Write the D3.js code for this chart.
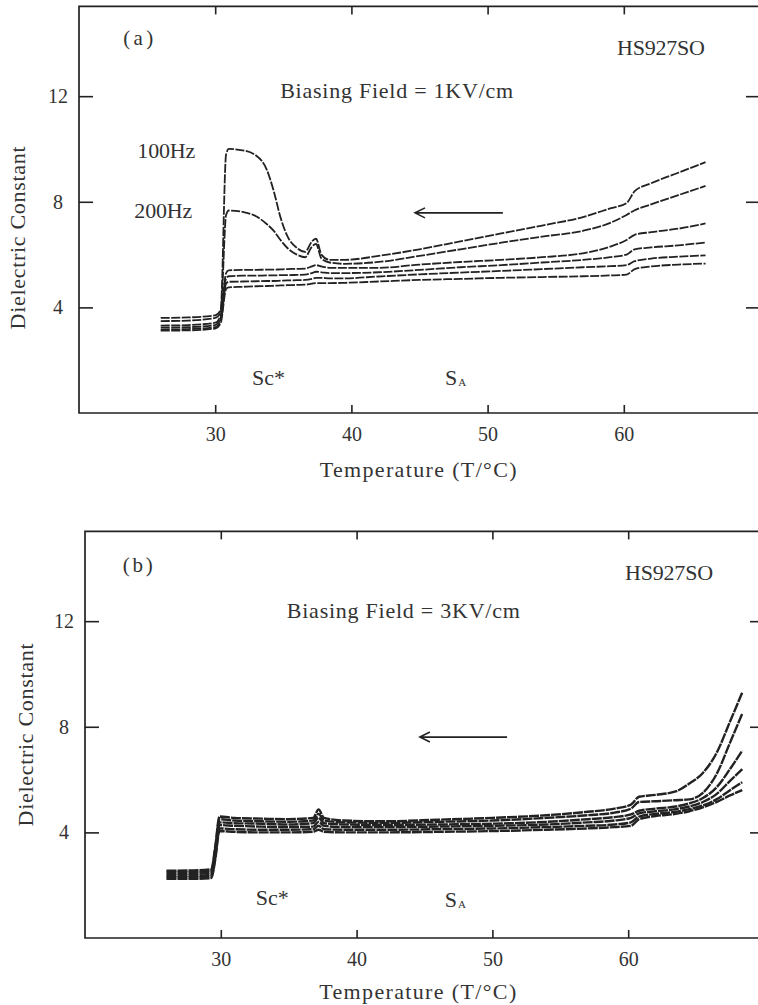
<!DOCTYPE html>
<html>
<head>
<meta charset="utf-8">
<script src="https://cdn.jsdelivr.net/npm/d3@7"></script>
<style>
  body { margin: 0; background: #fff; }
  svg { display: block; }
</style>
</head>
<body>
<script>
// ---- data ----
const xTicks = [30, 40, 50, 60];
const yTicks = [4, 8, 12];

// panel (a): biasing field 1 KV/cm
const tempA = [26, 28, 30, 30.4, 30.8, 31, 32, 33, 33.8, 34.3, 34.8, 35.3, 36, 36.6, 37.1, 37.4, 37.8, 38.4, 39.5, 42, 45, 48, 51, 54, 57, 59, 60.2, 60.8, 62, 64, 66];
const epsA100Hz = [3.6, 3.62, 3.7, 3.9, 9.8, 10.0, 9.95, 9.75, 9.2, 8.4, 7.4, 6.7, 6.25, 6.1, 6.5, 6.6, 6.0, 5.8, 5.8, 5.95, 6.2, 6.5, 6.8, 7.1, 7.42, 7.75, 7.95, 8.4, 8.7, 9.1, 9.5];
const epsA200Hz = [3.48, 3.5, 3.6, 3.8, 7.5, 7.67, 7.62, 7.45, 7.15, 6.9, 6.55, 6.25, 6.0, 5.9, 6.3, 6.4, 5.85, 5.7, 5.65, 5.72, 5.95, 6.2, 6.45, 6.68, 6.9, 7.2, 7.5, 7.68, 7.9, 8.25, 8.6];
const epsA3 = [3.31, 3.33, 3.42, 3.7, 5.3, 5.4, 5.42, 5.42, 5.43, 5.43, 5.44, 5.45, 5.46, 5.47, 5.55, 5.6, 5.55, 5.5, 5.5, 5.5, 5.62, 5.72, 5.8, 5.9, 6.05, 6.3, 6.55, 6.75, 6.85, 6.98, 7.18];
const epsA4 = [3.23, 3.25, 3.33, 3.6, 5.1, 5.18, 5.2, 5.2, 5.21, 5.21, 5.22, 5.22, 5.23, 5.24, 5.3, 5.35, 5.33, 5.3, 5.3, 5.33, 5.42, 5.52, 5.6, 5.7, 5.8, 5.9, 6.0, 6.2, 6.27, 6.35, 6.46];
const epsA5 = [3.16, 3.18, 3.25, 3.5, 4.9, 4.97, 4.98, 4.99, 5.0, 5.0, 5.01, 5.02, 5.03, 5.04, 5.08, 5.12, 5.12, 5.1, 5.1, 5.17, 5.25, 5.32, 5.38, 5.45, 5.52, 5.56, 5.6, 5.75, 5.85, 5.92, 5.97];
const epsA6 = [3.12, 3.13, 3.2, 3.4, 4.7, 4.76, 4.78, 4.8, 4.81, 4.82, 4.83, 4.84, 4.85, 4.86, 4.9, 4.92, 4.92, 4.92, 4.93, 4.98, 5.04, 5.08, 5.12, 5.15, 5.18, 5.21, 5.24, 5.45, 5.55, 5.62, 5.66];

// panel (b): biasing field 3 KV/cm
const tempB = [26, 28, 29.3, 29.6, 29.9, 31, 33, 35, 36.8, 37.2, 37.6, 39, 42, 46, 50, 54, 57, 59, 60.2, 60.8, 62, 63.5, 64.5, 65.5, 66.5, 67.5, 68.4];
const epsB1 = [2.55, 2.56, 2.6, 3.5, 4.6, 4.55, 4.52, 4.5, 4.55, 4.87, 4.55, 4.45, 4.42, 4.48, 4.55, 4.65, 4.78, 4.9, 5.05, 5.35, 5.42, 5.55, 5.85, 6.25, 7.0, 8.2, 9.3];
const epsB2 = [2.5, 2.5, 2.55, 3.4, 4.5, 4.45, 4.42, 4.4, 4.45, 4.7, 4.45, 4.38, 4.36, 4.4, 4.45, 4.55, 4.65, 4.75, 4.9, 5.15, 5.18, 5.22, 5.25, 5.5, 6.2, 7.4, 8.5];
const epsB3 = [2.43, 2.43, 2.48, 3.3, 4.38, 4.35, 4.33, 4.3, 4.35, 4.55, 4.35, 4.3, 4.28, 4.3, 4.33, 4.4, 4.5, 4.58, 4.68, 4.82, 4.9, 4.98, 5.1, 5.3, 5.7, 6.4, 7.1];
const epsB4 = [2.36, 2.36, 2.4, 3.2, 4.28, 4.25, 4.22, 4.2, 4.22, 4.4, 4.25, 4.2, 4.2, 4.22, 4.25, 4.3, 4.38, 4.45, 4.55, 4.72, 4.8, 4.88, 4.98, 5.15, 5.45, 5.95, 6.4];
const epsB5 = [2.3, 2.3, 2.33, 3.1, 4.15, 4.12, 4.1, 4.1, 4.12, 4.25, 4.12, 4.1, 4.1, 4.12, 4.15, 4.2, 4.25, 4.3, 4.38, 4.6, 4.7, 4.78, 4.88, 5.02, 5.25, 5.6, 5.9];
const epsB6 = [2.24, 2.24, 2.27, 3.0, 4.05, 4.02, 4.0, 4.0, 4.02, 4.1, 4.02, 4.0, 4.0, 4.02, 4.05, 4.1, 4.15, 4.2, 4.25, 4.5, 4.62, 4.7, 4.8, 4.95, 5.15, 5.4, 5.6];

const ink = "#222";
const font = "'Liberation Serif', 'DejaVu Serif', serif";

const svg = d3.select("body").append("svg")
    .attr("width", 758)
    .attr("height", 1005)
    .style("font-family", font);

function drawPanel(p) {
    const x = d3.scaleLinear().domain([20, 70]).range([p.left, p.right]);
    const y = d3.scaleLinear().domain([0, 15.4]).range([p.bottom, p.top]);

    const g = svg.append("g");

    // frame
    g.append("path")
        .attr("d", `M${p.right},${p.top}H${p.left}V${p.bottom}H${p.right}`)
        .attr("fill", "none")
        .attr("stroke", ink)
        .attr("stroke-width", 1.7);

    // axes with inward ticks
    g.append("g")
        .attr("transform", `translate(0,${p.bottom})`)
        .call(d3.axisBottom(x).tickValues(xTicks).tickSizeInner(-8).tickSizeOuter(0).tickPadding(14))
        .call(a => a.select(".domain").remove());
    g.append("g")
        .attr("transform", `translate(0,${p.top})`)
        .call(d3.axisTop(x).tickValues(xTicks).tickSizeInner(-8).tickSizeOuter(0).tickFormat(""))
        .call(a => a.select(".domain").remove());
    g.append("g")
        .attr("transform", `translate(${p.left},0)`)
        .call(d3.axisLeft(y).tickValues(yTicks).tickSizeInner(-14).tickSizeOuter(0))
        .call(a => a.select(".domain").remove())
        .call(a => a.selectAll("text").attr("text-anchor", "middle").attr("x", -p.labelGap));
    g.append("g")
        .attr("transform", `translate(${p.right},0)`)
        .call(d3.axisRight(y).tickValues(yTicks).tickSizeInner(-14).tickSizeOuter(0).tickFormat(""))
        .call(a => a.select(".domain").remove());

    g.selectAll(".tick line").attr("stroke", ink).attr("stroke-width", 1.6);
    g.selectAll(".tick text")
        .style("font-family", font)
        .style("font-size", "20px")
        .attr("fill", "#333");

    // curves
    const line = d3.line()
        .x(d => x(d[0]))
        .y(d => y(d[1]))
        .curve(d3.curveMonotoneX);

    g.append("g")
        .selectAll("path")
        .data(p.series)
        .join("path")
        .attr("d", s => line(p.temps.map((t, i) => [t, s[i]])))
        .attr("fill", "none")
        .attr("stroke", ink)
        .attr("stroke-width", p.lineWidth)
        .attr("stroke-dasharray", p.dash);

    // annotations (len = width measured on the scan)
    const txt = (t, v, s, size, len) => {
        const el = g.append("text")
            .attr("x", x(t))
            .attr("y", y(v))
            .attr("fill", "#333")
            .style("font-size", size + "px")
            .text(s);
        if (len) el.attr("textLength", len).attr("lengthAdjust", "spacing");
        return el;
    };

    txt(p.tag[0], p.tag[1], p.tag[2], 21, 30);
    txt(p.sample[0], p.sample[1], "HS927SO", 22, 88);
    txt(p.field[0], p.field[1], p.field[2], 22, 233);
    p.freqs.forEach(f => txt(f[0], f[1], f[2], 22, 58));
    txt(p.sc[0], p.sc[1], "Sc*", 22);
    txt(p.sa[0], p.sa[1], "S", 22)
        .append("tspan").attr("dx", 1).attr("dy", 1).style("font-size", "11px").text("A");

    // heating/cooling direction arrow
    const ax1 = x(p.arrow[0]), ax2 = x(p.arrow[1]), ay = y(p.arrow[2]);
    g.append("path")
        .attr("d", `M${ax2},${ay}H${ax1}M${ax1 + 10},${ay - 5}L${ax1},${ay}L${ax1 + 10},${ay + 5}`)
        .attr("fill", "none")
        .attr("stroke", ink)
        .attr("stroke-width", 1.6);

    // axis titles
    g.append("text")
        .attr("x", x(p.xTitle))
        .attr("y", p.bottom + p.xTitleGap)
        .attr("text-anchor", "middle")
        .attr("fill", "#333")
        .attr("textLength", 197)
        .attr("lengthAdjust", "spacing")
        .style("font-size", "22px")
        .text("Temperature (T/°C)");

    g.append("text")
        .attr("transform", `translate(${p.yTitleX},${y(p.yTitle)}) rotate(-90)`)
        .attr("text-anchor", "middle")
        .attr("fill", "#333")
        .attr("textLength", 183)
        .attr("lengthAdjust", "spacing")
        .style("font-size", "22px")
        .text("Dielectric Constant");
}

drawPanel({
    left: 79, right: 760, top: 6.4, bottom: 413,
    labelGap: 21,
    temps: tempA,
    series: [epsA100Hz, epsA200Hz, epsA3, epsA4, epsA5, epsA6],
    lineWidth: 1.8, dash: "9,1.5",
    tag: [23.25, 13.94, "(a)"],
    sample: [59.5, 13.56],
    field: [34.77, 11.93, "Biasing Field = 1KV/cm"],
    freqs: [[24.28, 9.66, "100Hz"], [24.06, 7.39, "200Hz"]],
    sc: [32.71, 1.06],
    sa: [46.87, 1.06],
    arrow: [44.67, 51.12, 7.58],
    xTitle: 44.9, xTitleGap: 64,
    yTitle: 6.63, yTitleX: 25
});

drawPanel({
    left: 85, right: 764, top: 531.4, bottom: 938,
    labelGap: 21,
    temps: tempB,
    series: [epsB1, epsB2, epsB3, epsB4, epsB5, epsB6],
    lineWidth: 2.4, dash: "10,1",
    tag: [22.78, 13.86, "(b)"],
    sample: [59.77, 13.56],
    field: [34.86, 12.12, "Biasing Field = 3KV/cm"],
    freqs: [],
    sc: [32.58, 1.25],
    sa: [46.5, 1.17],
    arrow: [44.66, 51.08, 7.61],
    xTitle: 44.5, xTitleGap: 61,
    yTitle: 7.69, yTitleX: 33
});
</script>
</body>
</html>
